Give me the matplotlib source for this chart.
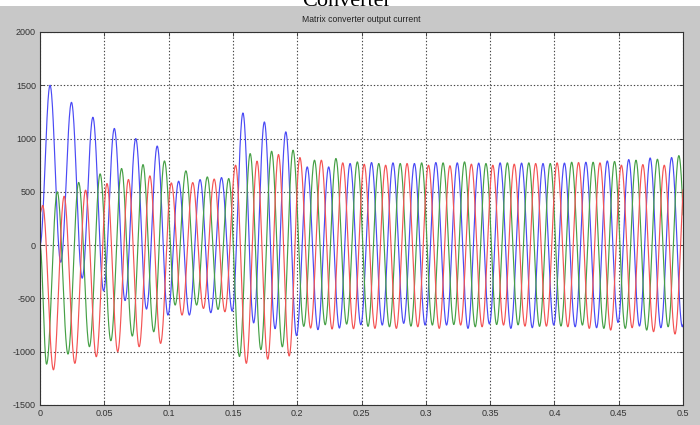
import numpy as np
import matplotlib
matplotlib.use("Agg")
import matplotlib.pyplot as plt

# ---------------- data ----------------
title = "Matrix converter output current"
header = "Converter"
x_ticks = [0, 0.05, 0.1, 0.15, 0.2, 0.25, 0.3, 0.35, 0.4, 0.45, 0.5]
x_tick_labels = ["0", "0.05", "0.1", "0.15", "0.2", "0.25", "0.3", "0.35", "0.4", "0.45", "0.5"]
y_ticks = [-1500, -1000, -500, 0, 500, 1000, 1500, 2000]
y_tick_labels = ["-1500", "-1000", "-500", "0", "500", "1000", "1500", "2000"]

period = 1 / 60  # one cycle of the output current (s)

# phase A (blue): first extremum is a peak at 0.0078 s, then alternating trough / peak
blue_first_t = 0.0078
blue_start = 0
blue_peaks = [1500, 1340, 1200, 1095, 1000, 930, 600, 615, 634, 1240, 1156, 1063, 734, 734, 766,
              775, 772, 766, 775, 772, 770, 772, 770, 766, 770, 778, 790, 803, 818, 822]
blue_troughs = [-160, -310, -430, -520, -600, -656, -656, -634, -620, -730, -784, -849, -793, -778, -747,
                -750, -734, -750, -750, -781, -740, -781, -775, -750, -766, -775, -725, -759, -775, -766]

# phase B (green): first extremum is a trough at 0.0051 s
green_first_t = 0.0051
green_start = 0
green_troughs = [-1117, -1022, -953, -897, -853, -813, -562, -562, -603, -1045, -980, -954, -762, -747, -741,
                 -762, -766, -760, -750, -745, -766, -745, -748, -762, -759, -750, -781, -781, -797, -766]
green_peaks = [500, 588, 669, 719, 756, 790, 697, 640, 625, 859, 881, 891, 797, 813, 781,
               766, 766, 772, 772, 781, 766, 772, 772, 766, 778, 778, 785, 797, 806, 840]

# phase C (red): first extremum is a peak at 0.0021 s
red_first_t = 0.0021
red_start = 300
red_peaks = [372, 459, 516, 578, 616, 650, 584, 587, 620, 750, 788, 850, 822, 797, 772,
             759, 750, 766, 750, 745, 760, 750, 760, 766, 772, 775, 772, 750, 756, 750]
red_troughs = [-1170, -1109, -1047, -1000, -953, -922, -656, -594, -625, -1109, -1070, -1040, -778, -787, -784,
               -781, -781, -766, -781, -750, -766, -750, -760, -760, -766, -781, -797, -775, -812, -834]


def build_wave(first_t, first_is_peak, peaks, troughs, start_val):
    """Join the read extrema with half-cosine arcs (shape of one half cycle)."""
    vals = []
    for a, b in (zip(peaks, troughs) if first_is_peak else zip(troughs, peaks)):
        vals += [a, b]
    times = [first_t + i * period / 2 for i in range(len(vals))]
    # one more half cycle so the trace reaches the right edge
    times.append(times[-1] + period / 2)
    vals.append(vals[-2])
    times = [0.0] + times
    vals = [start_val] + vals
    ts, vs = [], []
    for i in range(len(times) - 1):
        s = np.linspace(0, 1, 40, endpoint=False)
        ts.append(times[i] + s * (times[i + 1] - times[i]))
        vs.append(vals[i] + (vals[i + 1] - vals[i]) * (1 - np.cos(np.pi * s)) / 2)
    return np.concatenate(ts), np.concatenate(vs)


tb, vb = build_wave(blue_first_t, True, blue_peaks, blue_troughs, blue_start)
tg, vg = build_wave(green_first_t, False, green_peaks, green_troughs, green_start)
tr, vr = build_wave(red_first_t, True, red_peaks, red_troughs, red_start)

# ---------------- figure ----------------
W, H = 700, 425
fig = plt.figure(figsize=(W / 100, H / 100), dpi=100, facecolor="#c8c8c8")

# white strip at the very top with the heading clipped as in the source
fig.patches.append(plt.Rectangle((0, 1 - 6 / H), 1, 6 / H, transform=fig.transFigure,
                                 facecolor="white", edgecolor="none", zorder=0))
fig.text(347 / W, 1 - 2 / H, header, ha="center", va="center", fontsize=16,
         family=["Liberation Serif", "DejaVu Serif"], color="black")

ax = fig.add_axes([40 / W, 1 - 405 / H, (683 - 40) / W, (405 - 32) / H])
ax.set_facecolor("white")

lw = 0.85
ax.plot(tb, vb, color="#4a4af5", lw=lw)
ax.plot(tg, vg, color="#46a046", lw=lw)
ax.plot(tr, vr, color="#f45454", lw=lw)

ax.set_xlim(0, 0.5)
ax.set_ylim(-1500, 2000)
ax.set_xticks(x_ticks)
ax.set_xticklabels(x_tick_labels)
ax.set_yticks(y_ticks)
ax.set_yticklabels(y_tick_labels)

fam = ["Liberation Sans Narrow", "Liberation Sans", "DejaVu Sans"]
for lab in ax.get_xticklabels() + ax.get_yticklabels():
    lab.set_family(fam)
    lab.set_fontsize(6.5)
    lab.set_color("#222222")

ax.tick_params(direction="in", length=3, width=0.6, top=True, right=True, pad=3, colors="#333333")
ax.grid(True, color="#444444", linestyle=(0, (1.2, 1.8)), linewidth=0.8)
for sp in ax.spines.values():
    sp.set_color("#333333")
    sp.set_linewidth(0.8)

fig.text(361.5 / W, 1 - 20 / H, title, ha="center", va="center", fontsize=6.2,
         family=fam, color="#222222")

fig.savefig("out.png", dpi=100, facecolor=fig.get_facecolor())
